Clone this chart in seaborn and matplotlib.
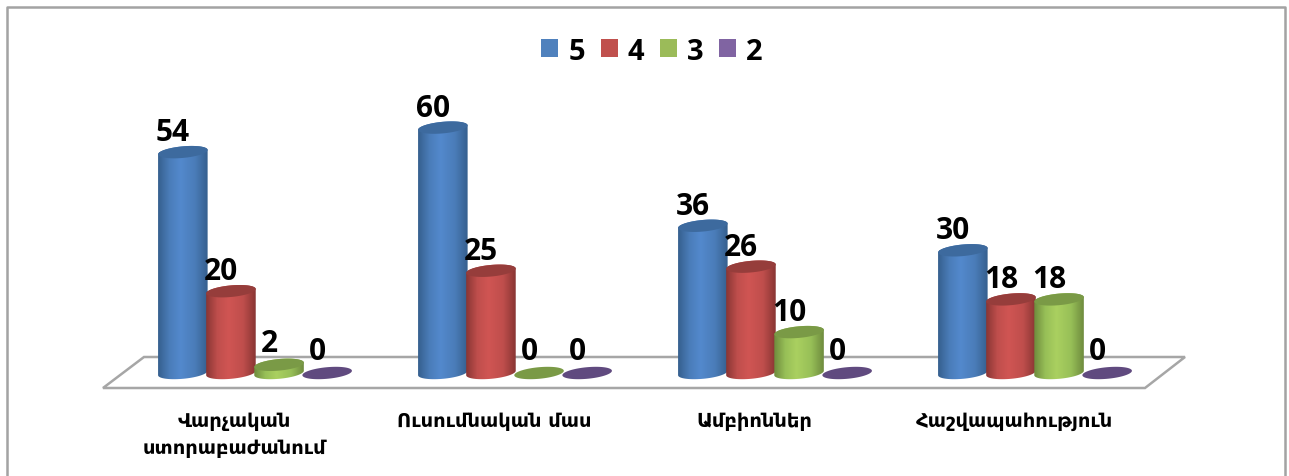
import numpy as np
import pandas as pd
import seaborn as sns
import matplotlib
matplotlib.use('Agg')
import matplotlib.pyplot as plt
from matplotlib.colors import LinearSegmentedColormap
from matplotlib.lines import Line2D
from matplotlib.patches import Polygon
from matplotlib.transforms import ScaledTranslation

categories = ['Վարչական\nստորաբաժանում', 'Ուսումնական մաս', 'Ամբիոններ', 'Հաշվապահություն']
grades = ['5', '4', '3', '2']
values_5 = [54, 60, 36, 30]
values_4 = [20, 25, 26, 18]
values_3 = [2, 0, 10, 18]
values_2 = [0, 0, 0, 0]

legend_colors = ['#4f81bd', '#c0504d', '#9bbb59', '#8064a2']
top_colors = ['#3d6a9e', '#963d3b', '#7a9a46', '#604a7f']
edge_colors = ['#36608f', '#8a3634', '#6f8c3e', '#5a4678']
mid_colors = ['#4a7cb8', '#bf4e4c', '#97bf57', '#7c619e']
light_colors = ['#5389cd', '#d05553', '#aad060', '#8f72b4']

W, H = 1289, 477
BASE_PX = 374
BELOW_PX = 14
PX_PER_UNIT = 4.09
GROUP_PX = 260
FIRST_PX = 255

df = pd.DataFrame({
    'category': categories * 4,
    'grade': [g for g in grades for _ in categories],
    'value': values_5 + values_4 + values_3 + values_2,
})

sns.set_theme(style='white')
plt.rcParams['font.family'] = ['Open Sans', 'DejaVu Sans']
plt.rcParams['text.color'] = 'black'

fig = plt.figure(figsize=(W / 100, H / 100), dpi=100)
ax = fig.add_axes([0, (H - BASE_PX - BELOW_PX) / H, 1, (BASE_PX + BELOW_PX) / H])
ax.patch.set_alpha(0)

sns.barplot(data=df, x='category', y='value', hue='grade', hue_order=grades,
            palette=legend_colors, saturation=1, width=0.74, dodge=True, ax=ax,
            linewidth=0)

xlim = (-FIRST_PX / GROUP_PX, (W - FIRST_PX) / GROUP_PX)
ylim = (-BELOW_PX / PX_PER_UNIT, BASE_PX / PX_PER_UNIT)
b = 5.8 / PX_PER_UNIT
k = 2.2 / PX_PER_UNIT
t_full = np.linspace(0, 2 * np.pi, 80)
t_up = np.linspace(np.pi, 0, 40)
t_down = np.linspace(0, -np.pi, 40)


def ring(cx, a, level, t):
    return np.column_stack([cx + a * np.cos(t), level + b * np.sin(t) + k * np.cos(t)])


for i, container in enumerate(ax.containers):
    cmap = LinearSegmentedColormap.from_list(
        grades[i],
        [(0, edge_colors[i]), (0.22, mid_colors[i]), (0.45, light_colors[i]),
         (0.75, mid_colors[i]), (1, edge_colors[i])])
    gradient = np.linspace(0, 1, 64).reshape(1, -1)
    for bar in container:
        v = bar.get_height()
        cx = bar.get_x() + bar.get_width() / 2
        a = bar.get_width() / 2 * 1.03
        z = 3 + cx + i * 0.01
        if v > 0:
            body = Polygon(np.vstack([ring(cx, a, v, t_up), ring(cx, a, 0, t_down)]),
                           closed=True, transform=ax.transData)
            bar.set_clip_path(body)
            img = ax.imshow(gradient, cmap=cmap, aspect='auto', zorder=z,
                            extent=(cx - a, cx + a, -2 * b, v + 2 * b),
                            interpolation='bilinear', clip_on=True)
            img.set_clip_path(body)
        else:
            bar.set_visible(False)
        ax.add_patch(Polygon(ring(cx, a, v, t_full), closed=True, facecolor=top_colors[i],
                             edgecolor='none', zorder=z + 0.001, clip_on=False))
        pad = 14 if v < 5 else 12
        ax.annotate(str(int(v)), (cx, v), xytext=(-10 * 0.72, pad * 0.72),
                    textcoords='offset points', ha='center', va='baseline',
                    fontsize=21.5, fontweight='bold', color='black', zorder=50,
                    annotation_clip=False)

ax.set_xlim(xlim)
ax.set_ylim(ylim)
ax.set_xlabel('')
ax.set_ylabel('')
ax.set_yticks([])
ax.tick_params(axis='x', length=0, pad=17)
shift = ScaledTranslation(-21 / 100, 0, fig.dpi_scale_trans)
for label in ax.get_xticklabels():
    label.set_transform(label.get_transform() + shift)
    label.set_family('DejaVu Sans')
    label.set_fontweight('bold')
    label.set_fontsize(14)
    label.set_color('black')
    label.set_linespacing(1.55)
sns.despine(ax=ax, left=True, bottom=True)

# floor under the bars
floor = np.array([(103, 389), (144, 358), (1185, 358), (1145, 389)], dtype=float)
floor[:, 0] /= W
floor[:, 1] = 1 - floor[:, 1] / H
ax.add_patch(Polygon(floor, closed=True, facecolor='white', edgecolor='#a6a6a6', linewidth=1.8,
                     transform=fig.transFigure, clip_on=False, zorder=1))

# frame, open at the bottom
fx = [6.5 / W, 6.5 / W, 1285 / W, 1285 / W]
fy = [0, 1 - 8 / H, 1 - 8 / H, 0]
fig.add_artist(Line2D(fx, fy, color='#a3a3a3', linewidth=1.8, transform=fig.transFigure))

sns.move_legend(ax, 'center', bbox_to_anchor=(652 / W, 1 - 52 / H),
                bbox_transform=fig.transFigure, ncol=4, frameon=False, title=None,
                handlelength=0.58, handleheight=0.58, handletextpad=0.35,
                columnspacing=0.53, prop={'weight': 'bold', 'size': 21})

fig.savefig('out.png', dpi=100)
